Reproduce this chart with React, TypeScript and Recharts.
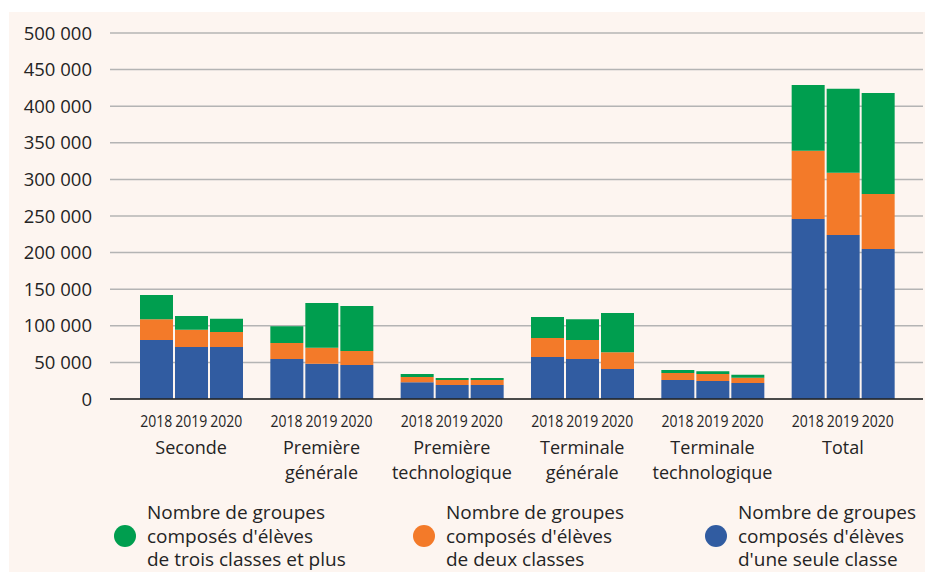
import { BarChart, Bar, XAxis, YAxis, CartesianGrid } from 'recharts'

const groups = ['Seconde', 'Première générale', 'Première technologique', 'Terminale générale', 'Terminale technologique', 'Total']
const groupLines = [
  ['Seconde'],
  ['Première', 'générale'],
  ['Première', 'technologique'],
  ['Terminale', 'générale'],
  ['Terminale', 'technologique'],
  ['Total'],
]
const years = ['2018', '2019', '2020']

// one row per group, one value per year
const uneClasse = [
  [80500, 71000, 71000],
  [54500, 48000, 46500],
  [23000, 19000, 19000],
  [57500, 54500, 41000],
  [26000, 24500, 22000],
  [246000, 224000, 205000],
]
const deuxClasses = [
  [28500, 23500, 20500],
  [22000, 22000, 19000],
  [7000, 7000, 7000],
  [26000, 26000, 23000],
  [9500, 9500, 7000],
  [93000, 85000, 75000],
]
const troisClasses = [
  [33000, 19000, 18000],
  [23000, 61000, 61500],
  [4000, 2700, 2700],
  [28500, 28500, 53500],
  [4000, 4000, 4000],
  [90000, 115000, 138000],
]
const yTicks = [0, 50000, 100000, 150000, 200000, 250000, 300000, 350000, 400000, 450000, 500000]

const BLUE = '#315ca1'
const ORANGE = '#f37a29'
const GREEN = '#009e4f'
const TEXT = '#242424'
const BAR_SIZE = 33
const BAR_GAP = 2

const legendItems = [
  { color: GREEN, lines: ['Nombre de groupes', "composés d'élèves", 'de trois classes et plus'], left: 105 },
  { color: ORANGE, lines: ['Nombre de groupes', "composés d'élèves", 'de deux classes'], left: 404 },
  { color: BLUE, lines: ['Nombre de groupes', "composés d'élèves", "d'une seule classe"], left: 696 },
]

const data = groups.map((g, i) => {
  const row: Record<string, string | number> = { group: g }
  years.forEach((y, j) => {
    row['une_' + y] = uneClasse[i][j]
    row['deux_' + y] = deuxClasses[i][j]
    row['trois_' + y] = troisClasses[i][j]
  })
  return row
})

const fmt = (v: number) => String(v).replace(/\B(?=(\d{3})+(?!\d))/g, ' ')

function GroupTick({ x, y, payload, index }: any) {
  const lines = groupLines[index] ?? [payload.value]
  return (
    <g>
      {years.map((yr, j) => (
        <text
          key={yr}
          x={x + (j - 1) * (BAR_SIZE + BAR_GAP)}
          y={y + 26}
          textAnchor="middle"
          fontSize={15.5}
          fill={TEXT}
          textLength={32}
          lengthAdjust="spacingAndGlyphs"
        >
          {yr}
        </text>
      ))}
      {lines.map((l, k) => (
        <text key={l} x={x} y={y + 53 + k * 24.5} textAnchor="middle" fontSize={18} fill={TEXT}>
          {l}
        </text>
      ))}
    </g>
  )
}

export default function App() {
  return (
    <div
      style={{
        position: 'absolute',
        left: 9,
        top: 12,
        width: 916,
        height: 560,
        background: '#fdf5f0',
        fontFamily: '"Open Sans", sans-serif',
        color: TEXT,
      }}
    >
      <BarChart
        width={916}
        height={480}
        data={data}
        barSize={BAR_SIZE}
        barGap={BAR_GAP}
        margin={{ top: 21, right: 2, left: 0, bottom: 0 }}
      >
        <CartesianGrid vertical={false} stroke="#b4b4b4" strokeWidth={1.5} />
        <XAxis
          dataKey="group"
          height={93}
          interval={0}
          tickLine={false}
          tickSize={0}
          padding={{ left: 16, right: 15 }}
          axisLine={{ stroke: '#222', strokeWidth: 1.5 }}
          tick={<GroupTick />}
        />
        <YAxis
          width={101}
          domain={[0, 500000]}
          ticks={yTicks}
          tickFormatter={fmt}
          axisLine={false}
          tickLine={false}
          tickSize={0}
          tickMargin={18}
          tick={{ fill: TEXT, fontSize: 18.5 }}
        />
        {years.map(yr => [
          <Bar key={'une' + yr} dataKey={'une_' + yr} stackId={yr} fill={BLUE} isAnimationActive={false} />,
          <Bar key={'deux' + yr} dataKey={'deux_' + yr} stackId={yr} fill={ORANGE} isAnimationActive={false} />,
          <Bar key={'trois' + yr} dataKey={'trois_' + yr} stackId={yr} fill={GREEN} isAnimationActive={false} />,
        ])}
      </BarChart>
      {legendItems.map(item => (
        <div
          key={item.color}
          style={{ position: 'absolute', left: item.left, top: 489, display: 'flex', alignItems: 'center' }}
        >
          <span
            style={{ width: 22, height: 22, borderRadius: '50%', background: item.color, marginRight: 11, flexShrink: 0 }}
          />
          <div style={{ fontSize: 19, lineHeight: '23.5px', whiteSpace: 'nowrap' }}>
            {item.lines.map(l => (
              <div key={l}>{l}</div>
            ))}
          </div>
        </div>
      ))}
    </div>
  )
}
